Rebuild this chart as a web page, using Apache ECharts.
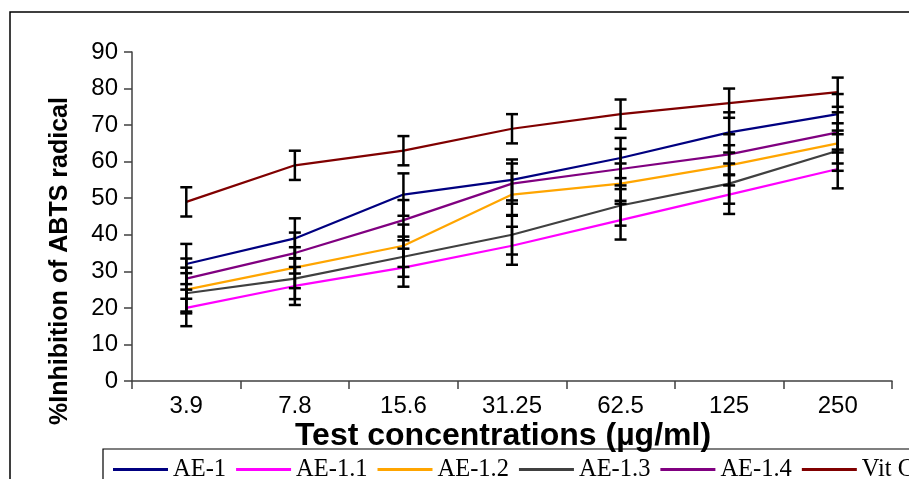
<!DOCTYPE html>
<html>
<head>
<meta charset="utf-8">
<script src="https://cdn.jsdelivr.net/npm/echarts@6/dist/echarts.min.js"></script>
<style>html,body{margin:0;padding:0;background:#fff}#c{width:909px;height:479px}</style>
</head>
<body>
<div id="c"></div>
<script>
var categories = ['3.9', '7.8', '15.6', '31.25', '62.5', '125', '250'];
var seriesNames = ['AE-1', 'AE-1.1', 'AE-1.2', 'AE-1.3', 'AE-1.4', 'Vit C'];
var ae1   = [32, 39, 51, 55, 61, 68, 73];
var ae11  = [20, 26, 31, 37, 44, 51, 58];
var ae12  = [25, 31, 37, 51, 54, 59, 65];
var ae13  = [24, 28, 34, 40, 48, 54, 63];
var ae14  = [28, 35, 44, 54, 58, 62, 68];
var vitC  = [49, 59, 63, 69, 73, 76, 79];
var err1  = [5.5, 5.5, 5.8, 5.6, 5.5, 5.5, 5.5];
var err11 = [5, 5.2, 5.2, 5.2, 5.3, 5.3, 5.3];
var err12 = [6, 5.6, 5.8, 5.8, 5.5, 5.5, 5.5];
var err13 = [5.5, 5.6, 5.5, 5.4, 5.5, 5.5, 5.5];
var err14 = [5.5, 5.6, 5.5, 5.5, 5.5, 5.5, 5.5];
var errC  = [4, 4, 4, 4, 4, 4, 4];
var yTicks = [0, 10, 20, 30, 40, 50, 60, 70, 80, 90];

var values = [ae1, ae11, ae12, ae13, ae14, vitC];
var errors = [err1, err11, err12, err13, err14, errC];
var colors = ['#000080', '#FF00FF', '#FFA500', '#404040', '#800080', '#800000'];

var series = [];
values.forEach(function (v, k) {
  series.push({
    name: seriesNames[k], type: 'line', data: v, symbol: 'none',
    lineStyle: { color: colors[k], width: 2.2 }, itemStyle: { color: colors[k] },
    z: 2, animation: false
  });
});
values.forEach(function (v, k) {
  series.push({
    type: 'custom', z: 3, animation: false,
    data: v.map(function (val, i) { return [i, val - errors[k][i], val + errors[k][i]]; }),
    renderItem: function (params, api) {
      var lo = api.coord([api.value(0), api.value(1)]);
      var hi = api.coord([api.value(0), api.value(2)]);
      var w = 6, st = { stroke: '#000', lineWidth: 2.5 };
      return { type: 'group', children: [
        { type: 'line', shape: { x1: hi[0], y1: hi[1], x2: lo[0], y2: lo[1] }, style: st },
        { type: 'line', shape: { x1: hi[0] - w, y1: hi[1], x2: hi[0] + w, y2: hi[1] }, style: st },
        { type: 'line', shape: { x1: lo[0] - w, y1: lo[1], x2: lo[0] + w, y2: lo[1] }, style: st }
      ]};
    }
  });
});

var chart = echarts.init(document.getElementById('c'), null, { renderer: 'canvas' });
chart.setOption({
  backgroundColor: '#fff',
  animation: false,
  grid: { left: 132, right: 17, top: 52, bottom: 98 },
  xAxis: {
    type: 'category', data: categories, boundaryGap: true,
    axisLine: { lineStyle: { color: '#404040', width: 1.5 } },
    axisTick: { show: true, length: 8, lineStyle: { color: '#404040', width: 1.5 } },
    axisLabel: { fontFamily: 'Liberation Sans, Arial', fontSize: 24, color: '#000', margin: 13 }
  },
  yAxis: {
    type: 'value', min: yTicks[0], max: yTicks[yTicks.length - 1], interval: 10,
    splitLine: { show: false },
    axisLine: { show: true, lineStyle: { color: '#404040', width: 1.5 } },
    axisTick: { show: true, length: 8, lineStyle: { color: '#404040', width: 1.5 } },
    axisLabel: { fontFamily: 'Liberation Sans, Arial', fontSize: 24, color: '#000', margin: 14 }
  },
  legend: {
    data: seriesNames, left: 113, top: 457, width: 1500, padding: 0,
    icon: 'rect', itemWidth: 55, itemHeight: 3, itemGap: 10,
    textStyle: { fontFamily: 'Liberation Serif, Times New Roman', fontSize: 24.5, color: '#000' }
  },
  graphic: [
    { type: 'rect', shape: { x: 10, y: 12, width: 1200, height: 800 }, style: { fill: 'none', stroke: '#000', lineWidth: 1.5 }, silent: true },
    { type: 'rect', shape: { x: 103, y: 449, width: 1200, height: 200 }, style: { fill: 'none', stroke: '#000', lineWidth: 1.2 }, silent: true },
    { type: 'text', x: 60, y: 261, rotation: Math.PI / 2,
      style: { text: '%Inhibition of ABTS radical', fontFamily: 'Liberation Sans, Arial', fontWeight: 'bold', fontSize: 25, fill: '#000', textAlign: 'center', textVerticalAlign: 'middle' } },
    { type: 'text', x: 503, y: 436,
      style: { text: 'Test concentrations (µg/ml)', fontFamily: 'Liberation Sans, Arial', fontWeight: 'bold', fontSize: 32, fill: '#000', textAlign: 'center', textVerticalAlign: 'middle' } }
  ],
  series: series
});
</script>
</body>
</html>
